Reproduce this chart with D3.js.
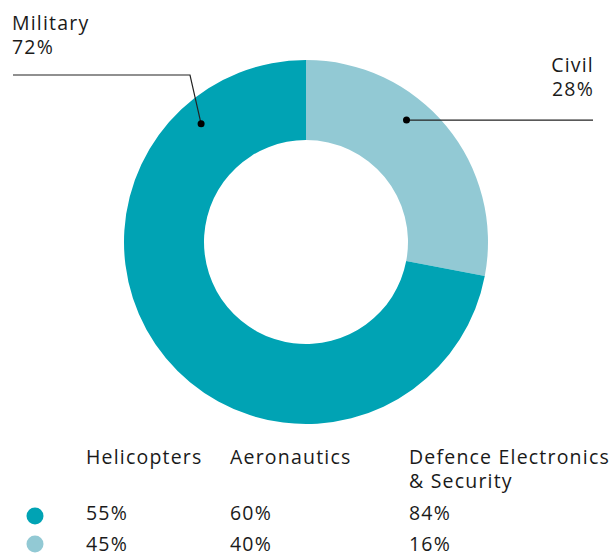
<!DOCTYPE html>
<html><head><meta charset="utf-8">
<script src="https://cdn.jsdelivr.net/npm/d3@7"></script>
<style>
html,body{margin:0;padding:0;background:#fff;}
svg{display:block;}
text{font-family:"Open Sans",sans-serif;fill:#1a1a1a;letter-spacing:1.2px;}
</style></head><body>
<svg id="chart" width="615" height="554"></svg>
<script>
const segments = ["Civil", "Military"];
const shares = [28, 72];
const colors = ["#92c9d4", "#00a3b4"];
const divisions = ["Helicopters", "Aeronautics", "Defence Electronics|& Security"];
const militaryShares = [55, 60, 84];
const civilShares = [45, 40, 16];

const svg = d3.select("#chart");
const cx = 306, cy = 242, rOuter = 182, rInner = 102;
const g = svg.append("g").attr("transform", `translate(${cx},${cy})`);

const pie = d3.pie().sort(null).value(d => d)(shares);
const arc = d3.arc().innerRadius(rInner).outerRadius(rOuter);
g.selectAll("path").data(pie).join("path")
  .attr("d", arc).attr("fill", (d, i) => colors[i]);

// leader dots
const deg = Math.PI / 180;
const dotR = 158;
const dotAngles = [39.5 * deg, -41.6 * deg];
const dotPos = dotAngles.map(a => [cx + dotR * Math.sin(a), cy - dotR * Math.cos(a)]);

// Civil leader
svg.append("path")
  .attr("d", `M${dotPos[0][0]},${dotPos[0][1]}H593`)
  .attr("stroke", "#222").attr("stroke-width", 1.2).attr("fill", "none");
// Military leader
svg.append("path")
  .attr("d", `M${dotPos[1][0]},${dotPos[1][1]}L190,75H13`)
  .attr("stroke", "#222").attr("stroke-width", 1.2).attr("fill", "none");
svg.selectAll("circle.dot").data(dotPos).join("circle").attr("class", "dot")
  .attr("cx", d => d[0]).attr("cy", d => d[1]).attr("r", 3.5).attr("fill", "#000");

const fs = 19.5;
// labels
const civ = svg.append("text").attr("text-anchor", "end").attr("font-size", fs);
civ.append("tspan").attr("x", 594).attr("y", 72).text(segments[0]);
civ.append("tspan").attr("x", 594).attr("y", 96).text(shares[0] + "%");
const mil = svg.append("text").attr("text-anchor", "start").attr("font-size", fs);
mil.append("tspan").attr("x", 12).attr("y", 30).text(segments[1]);
mil.append("tspan").attr("x", 12).attr("y", 54).text(shares[1] + "%");

// legend table
const colX = [86, 230, 409];
divisions.forEach((d, i) => {
  const t = svg.append("text").attr("font-size", fs);
  d.split("|").forEach((line, j) => {
    t.append("tspan").attr("x", colX[i]).attr("y", 464 + j * 24).text(line);
  });
});
const rows = [militaryShares, civilShares];
const rowY = [520, 551];
const dotY = [516, 544];
rows.forEach((vals, r) => {
  svg.append("circle").attr("cx", 35).attr("cy", dotY[r]).attr("r", 8.5).attr("fill", colors[1 - r]);
  vals.forEach((v, i) => {
    svg.append("text").attr("font-size", fs).attr("x", colX[i]).attr("y", rowY[r]).text(v + "%");
  });
});
</script>
</body></html>
